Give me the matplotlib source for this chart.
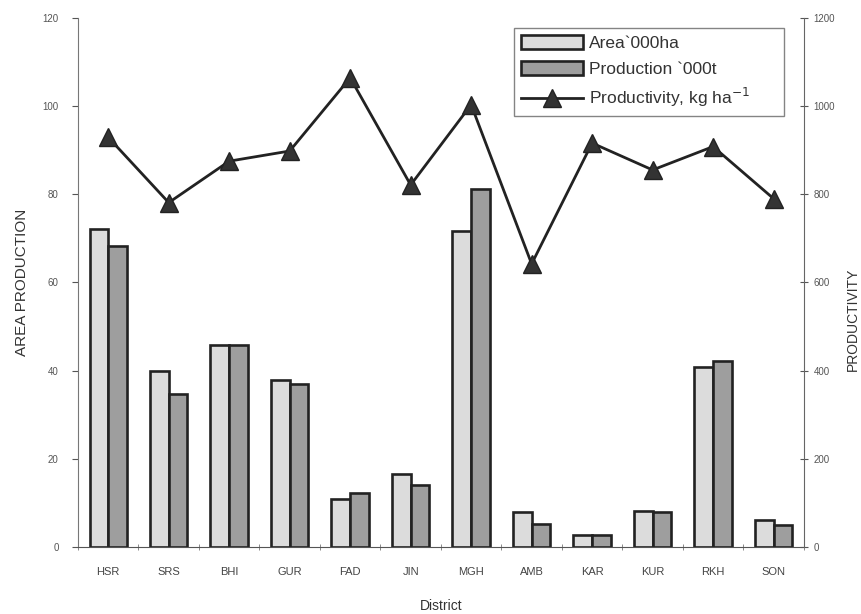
import numpy as np
import matplotlib.pyplot as plt
from matplotlib.ticker import FixedLocator

plt.rcParams['font.family'] = ['Liberation Sans', 'DejaVu Sans']

# District-wise data
districts = ['HSR', 'SRS', 'BHI', 'GUR', 'FAD', 'JIN', 'MGH', 'AMB', 'KAR', 'KUR', 'RKH', 'SON']
area = [72.1, 40.0, 45.8, 37.9, 10.9, 16.6, 71.7, 7.9, 2.7, 8.1, 40.8, 6.2]
production = [68.3, 34.7, 45.8, 37.0, 12.2, 14.1, 81.2, 5.3, 2.7, 8.0, 42.1, 5.1]
productivity = [929, 781, 875, 898, 1064, 821, 1003, 642, 916, 855, 908, 790]

x = np.arange(len(districts)) + 0.5
w = 0.31

fig = plt.figure(figsize=(8.62, 6.14), dpi=100)
ax = fig.add_axes([0.0905, 0.109, 0.842, 0.862])

b1 = ax.bar(x - w / 2, area, w, color='#dcdcdc', edgecolor='#222222', linewidth=1.9,
            label='Area`000ha')
b2 = ax.bar(x + w / 2, production, w, color='#9e9e9e', edgecolor='#222222', linewidth=1.9,
            label='Production `000t')

ax.set_xlim(0, len(districts))
ax.set_ylim(0, 120)
ax.set_yticks(range(0, 121, 20))
ax.set_xticks(x)
ax.set_xticklabels(districts, fontsize=8, color='#444444')
ax.xaxis.set_minor_locator(FixedLocator(np.arange(0, len(districts) + 1)))
ax.tick_params(axis='x', which='major', length=0, pad=14)
ax.tick_params(axis='x', which='minor', length=4, direction='inout', color='#777777')
ax.tick_params(axis='y', labelsize=7, colors='#555555', length=4, width=0.8, pad=10)
for s in ['top', 'right']:
    ax.spines[s].set_visible(False)
ax.spines['left'].set_color('#777777')
ax.spines['bottom'].set_color('#555555')
ax.set_xlabel('District', fontsize=10, color='#333333', labelpad=16)
ax.set_ylabel('AREA PRODUCTION', fontsize=11, color='#333333', labelpad=10)

ax2 = ax.twinx()
ln, = ax2.plot(x, productivity, color='#222222', linewidth=2, marker='^', markersize=13,
               markerfacecolor='#333333', markeredgecolor='#222222',
               label='Productivity, kg ha$^{-1}$')
ax2.set_ylim(0, 1200)
ax2.set_yticks(range(0, 1201, 200))
ax2.tick_params(axis='y', labelsize=7, colors='#555555', length=6, direction='inout', pad=4)
for s in ['top', 'left', 'bottom']:
    ax2.spines[s].set_visible(False)
ax2.spines['right'].set_color('#666666')
ax2.set_ylabel('PRODUCTIVITY', fontsize=10, color='#333333')
ax2.yaxis.set_label_coords(1.058, 0.43)

leg = ax2.legend(handles=[b1, b2, ln], loc='upper left',
                 bbox_to_anchor=(0.6006, 0.5, 0.372, 0.481), mode='expand',
                 borderaxespad=0, fontsize=12.5, frameon=True, fancybox=False,
                 edgecolor='#666666', handlelength=3.6, handleheight=0.9,
                 borderpad=0.4, labelspacing=0.55, handletextpad=0.3)
leg.get_frame().set_linewidth(1.0)
for t in leg.get_texts():
    t.set_color('#333333')

fig.savefig('out.png', dpi=100, facecolor='white')
